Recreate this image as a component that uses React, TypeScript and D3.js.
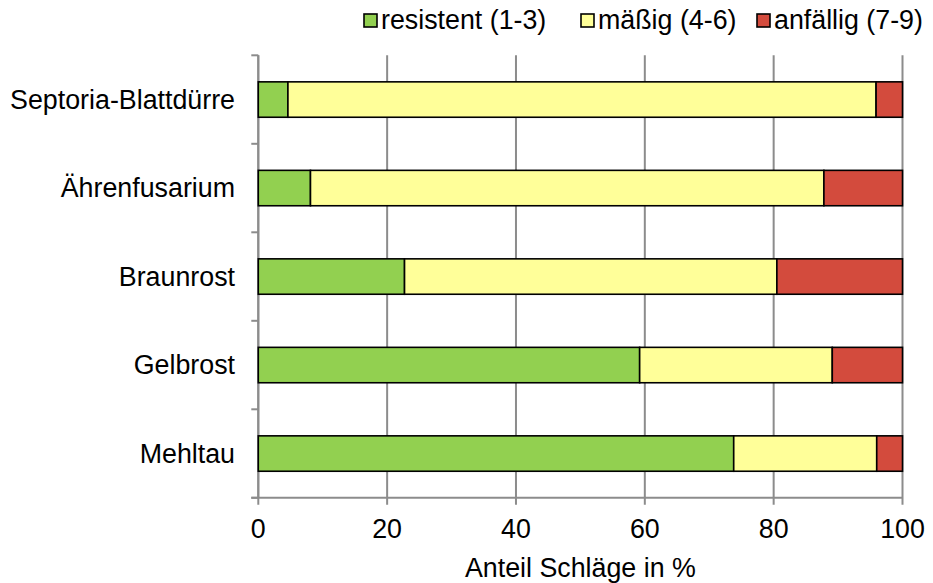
import React from "react";
import * as d3 from "d3";

const categories = ["Septoria-Blattdürre", "Ährenfusarium", "Braunrost", "Gelbrost", "Mehltau"];
const seriesNames = ["resistent (1-3)", "mäßig (4-6)", "anfällig (7-9)"];
const resistent = [4.6, 8.1, 22.7, 59.2, 73.8];
const maessig = [91.3, 79.7, 57.8, 29.9, 22.2];
const anfaellig = [4.1, 12.2, 19.5, 10.9, 4.0];
const xTicks = [0, 20, 40, 60, 80, 100];
const xTitle = "Anteil Schläge in %";
const colors = ["#92D050", "#FFFF99", "#D34B3D"];

const W = 933;
const H = 583;
const left = 258.3;
const right = 902.5;
const top = 55.3;
const bottom = 497.8;
const font = "'Liberation Sans', Arial, sans-serif";
const fs = 26.8;

export default function App() {
  const x = d3.scaleLinear().domain([0, 100]).range([left, right]);
  const y = d3.scaleBand<string>().domain(categories).range([top, bottom]).paddingInner(0.6).paddingOuter(0.3);
  const band = d3.scaleBand<string>().domain(categories).range([top, bottom]);

  const rows = categories.map((c, i) => ({ cat: c, resistent: resistent[i], maessig: maessig[i], anfaellig: anfaellig[i] }));
  const stack = d3.stack<any>().keys(["resistent", "maessig", "anfaellig"]);
  const layers = stack(rows);

  const legendX = [364, 581, 757];

  return (
    <svg width={W} height={H} style={{ position: "absolute", left: 0, top: 0, background: "#fff" }}>
      {xTicks.map((t) => (
        <line key={"g" + t} x1={x(t)} x2={x(t)} y1={top} y2={bottom + 7} stroke="#8c8c8c" strokeWidth={2} />
      ))}
      <line x1={left} x2={left} y1={top} y2={bottom} stroke="#8c8c8c" strokeWidth={2} />
      {d3.range(categories.length + 1).map((i) => {
        const yy = i < categories.length ? (band(categories[i]) as number) : bottom;
        return <line key={"yt" + i} x1={left - 7} x2={left} y1={yy} y2={yy} stroke="#8c8c8c" strokeWidth={2} />;
      })}
      <line x1={left - 7} x2={right} y1={bottom} y2={bottom} stroke="#8c8c8c" strokeWidth={2} />
      {layers.map((layer, li) =>
        layer.map((d, i) => (
          <rect
            key={li + "-" + i}
            x={x(d[0])}
            y={y(categories[i])}
            width={x(d[1]) - x(d[0])}
            height={y.bandwidth()}
            fill={colors[li]}
            stroke="#000"
            strokeWidth={1.6}
          />
        ))
      )}
      {categories.map((c) => (
        <text
          key={"c" + c}
          x={235}
          y={(y(c) as number) + y.bandwidth() / 2}
          dy="0.35em"
          textAnchor="end"
          fontFamily={font}
          fontSize={fs}
          fill="#000"
        >
          {c}
        </text>
      ))}
      {xTicks.map((t) => (
        <text key={"xl" + t} x={x(t)} y={538} textAnchor="middle" fontFamily={font} fontSize={fs} fill="#000">
          {t}
        </text>
      ))}
      <text x={(left + right) / 2} y={577} textAnchor="middle" fontFamily={font} fontSize={fs} fill="#000">
        {xTitle}
      </text>
      {seriesNames.map((s, i) => (
        <g key={"lg" + i}>
          <rect x={legendX[i]} y={14} width={13} height={13} fill={colors[i]} stroke="#000" strokeWidth={1.6} />
          <text x={legendX[i] + 17} y={29} fontFamily={font} fontSize={fs} fill="#000">
            {s}
          </text>
        </g>
      ))}
    </svg>
  );
}
